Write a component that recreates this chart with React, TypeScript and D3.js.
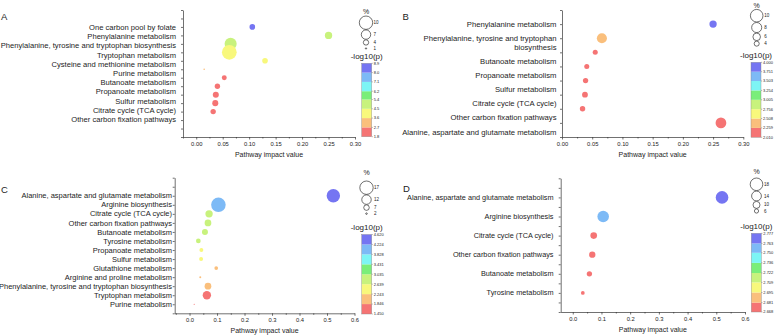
import * as d3 from "d3"
import React, { useEffect, useRef } from "react"

const FONT = "'Liberation Sans', Arial, Helvetica, sans-serif"
const INK = "#1c1c1c"

// eight-step palette used for the dots and the -log10(p) bar, low to high
const bandColors = [
  "#f57474",
  "#fabf7c",
  "#f8f87c",
  "#c8f27d",
  "#7aee7a",
  "#7df5f5",
  "#7dbaf6",
  "#7575f2",
]

// panel A
const pathwaysA = [
  "One carbon pool by folate",
  "Phenylalanine metabolism",
  "Phenylalanine, tyrosine and tryptophan biosynthesis",
  "Tryptophan metabolism",
  "Cysteine and methionine metabolism",
  "Purine metabolism",
  "Butanoate metabolism",
  "Propanoate metabolism",
  "Sulfur metabolism",
  "Citrate cycle (TCA cycle)",
  "Other carbon fixation pathways",
]
const impactA = [0.106, 0.25, 0.065, 0.0625, 0.13, 0.015, 0.053, 0.04, 0.037, 0.036, 0.032]
const logPA = [8.5, 5.0, 5.2, 4.0, 3.9, 3.0, 2.2, 2.1, 2.1, 2.0, 2.0]
const hitsA = [4.2, 5.5, 9, 11, 4.2, 1.2, 3.7, 4, 4.5, 4.5, 4]
const sizeTicksA = [10, 7, 4, 1]
const colorTicksA = ["1.8", "2.7", "3.6", "4.5", "5.4", "6.2", "7.1", "8.0", "8.9"]

// panel B
const pathwaysB = [
  "Phenylalanine metabolism",
  "Phenylalanine, tyrosine and tryptophan\nbiosynthesis",
  "Butanoate metabolism",
  "Propanoate metabolism",
  "Sulfur metabolism",
  "Citrate cycle (TCA cycle)",
  "Other carbon fixation pathways",
  "Alanine, aspartate and glutamate metabolism",
]
const impactB = [0.25, 0.066, 0.055, 0.041, 0.039, 0.038, 0.034, 0.263]
const logPB = [3.9, 2.4, 2.1, 2.1, 2.05, 2.05, 2.05, 2.1]
const hitsB = [5.8, 8, 4, 4, 4.2, 4.6, 4.3, 8.5]
const sizeTicksB = [10, 8, 6, 4]
const colorTicksB = ["2.010", "2.259", "2.508", "2.756", "3.005", "3.254", "3.503", "3.751", "4.000"]

// panel C
const pathwaysC = [
  "Alanine, aspartate and glutamate metabolism",
  "Arginine biosynthesis",
  "Citrate cycle (TCA cycle)",
  "Other carbon fixation pathways",
  "Butanoate metabolism",
  "Tyrosine metabolism",
  "Propanoate metabolism",
  "Sulfur metabolism",
  "Glutathione metabolism",
  "Arginine and proline metabolism",
  "Phenylalanine, tyrosine and tryptophan biosynthesis",
  "Tryptophan metabolism",
  "Purine metabolism",
]
const impactC = [0.523, 0.105, 0.071, 0.067, 0.056, 0.032, 0.043, 0.042, 0.097, 0.039, 0.067, 0.063, 0.017]
const logPC = [4.5, 4.0, 2.85, 2.8, 2.75, 2.7, 2.45, 2.4, 2.0, 1.95, 2.0, 1.7, 1.5]
const hitsC = [17, 18.5, 9.3, 8.5, 7.6, 6, 5, 5, 4.7, 2.5, 8.5, 10.6, 1.5]
const sizeTicksC = [17, 12, 7, 2]
const colorTicksC = ["1.450", "1.846", "2.243", "2.639", "3.035", "3.431", "3.828", "4.224", "4.620"]

// panel D
const pathwaysD = [
  "Alanine, aspartate and glutamate metabolism",
  "Arginine biosynthesis",
  "Citrate cycle (TCA cycle)",
  "Other carbon fixation pathways",
  "Butanoate metabolism",
  "Tyrosine metabolism",
]
const impactD = [0.52, 0.106, 0.073, 0.068, 0.058, 0.035]
const logPD = [2.775, 2.757, 2.67, 2.67, 2.67, 2.67]
const hitsD = [18, 16.5, 9.5, 9, 7.6, 5.4]
const sizeTicksD = [18, 14, 10, 6]
const colorTicksD = ["2.668", "2.681", "2.695", "2.709", "2.722", "2.736", "2.750", "2.763", "2.777"]

const layoutA = {
  letter: "A", letterX: 1, letterY: 19.5,
  axisX: 183, axisRight: 355, top: 10, bottom: 137,
  xDomain: [-0.025, 0.3], xMajor: 0.05, xDigits: 2,
  yDomain: [-2, 13], yTickStep: 1,
  labelRight: 176, labelSize: 7.6, labelRange: [27.3, 119.3], lineGap: 0,
  legendX: 366, pctY: 13.5, circleTop: 16, rMax: 6.7,
  barX: 361.7, barW: 10, barTop: 63.3, barBottom: 136.7,
}
const layoutB = {
  letter: "B", letterX: 402.5, letterY: 19.5,
  axisX: 562, axisRight: 743.3, top: 10, bottom: 137,
  xDomain: [0, 0.3], xMajor: 0.05, xDigits: 2,
  yDomain: [-1, 8], yTickStep: 1,
  labelRight: 556.5, labelSize: 7.7, labelRange: null, lineGap: 9,
  legendX: 756.7, pctY: 7.5, circleTop: 9.4, rMax: 6.3,
  barX: 751, barW: 10, barTop: 62.3, barBottom: 137.3,
}
const layoutC = {
  letter: "C", letterX: 1, letterY: 192.5,
  axisX: 174.7, axisRight: 354.5, top: 177.7, bottom: 313.3,
  xDomain: [-0.054, 0.6], xMajor: 0.1, xDigits: 1,
  yDomain: [-2, 13], yTickStep: 1,
  labelRight: 172, labelSize: 7.5, labelRange: null, lineGap: 0,
  legendX: 366.5, pctY: 175, circleTop: 181, rMax: 6.7,
  barX: 361.7, barW: 10, barTop: 234.5, barBottom: 314,
}
const layoutD = {
  letter: "D", letterX: 403, letterY: 192,
  axisX: 560.7, axisRight: 745, top: 178.3, bottom: 312,
  xDomain: [-0.042, 0.6], xMajor: 0.1, xDigits: 1,
  yDomain: [-1, 6], yTickStep: 0.5,
  labelRight: 553.5, labelSize: 7.3, labelRange: null, lineGap: 0,
  legendX: 756.5, pctY: 173.5, circleTop: 178, rMax: 6.3,
  barX: 751.3, barW: 10, barTop: 233.3, barBottom: 312,
}

const Panel = ({ pathways, impact, logP, hits, sizeTicks, colorTicks, layout }) => {
  const ref = useRef(null)

  useEffect(() => {
    const L = layout
    const g = d3.select(ref.current)
    g.selectAll("*").remove()

    const x = d3.scaleLinear().domain(L.xDomain).range([L.axisX, L.axisRight])
    const y = d3.scaleLinear().domain(L.yDomain).range([L.top, L.bottom])
    const r = d3.scaleLinear().domain([0, sizeTicks[0]]).range([0, L.rMax])
    const lo = +colorTicks[0]
    const hi = +colorTicks[colorTicks.length - 1]
    const color = d3.scaleQuantize().domain([lo, hi]).range(bandColors)

    g.append("text")
      .attr("x", L.letterX)
      .attr("y", L.letterY)
      .attr("font-size", 9.5)
      .attr("fill", INK)
      .text(L.letter)

    // x axis with minor ticks halfway between labelled ones
    const major = d3.range(0, L.xDomain[1] + 1e-9, L.xMajor)
    const minor = d3
      .range(Math.ceil(L.xDomain[0] / (L.xMajor / 2)), Math.floor(L.xDomain[1] / (L.xMajor / 2)) + 1)
      .map((k) => (k * L.xMajor) / 2)
      .filter((v) => Math.abs(v / L.xMajor - Math.round(v / L.xMajor)) > 1e-6)

    const xg = g.append("g").attr("transform", "translate(0," + L.bottom + ")")
    xg.call(
      d3
        .axisBottom(x)
        .tickValues(major)
        .tickFormat(d3.format("." + L.xDigits + "f"))
        .tickSize(2.5)
        .tickSizeOuter(0)
        .tickPadding(2)
    )
    const minorG = xg.append("g")
    minorG.call(d3.axisBottom(x).tickValues(minor).tickFormat(() => "").tickSize(1.5).tickSizeOuter(0))
    minorG.select(".domain").remove()

    const yg = g.append("g").attr("transform", "translate(" + L.axisX + ",0)")
    const yTicks = d3.range(L.yDomain[0], L.yDomain[1] + 1e-9, L.yTickStep)
    yg.call(d3.axisLeft(y).tickValues(yTicks).tickFormat(() => "").tickSize(2).tickSizeOuter(0))

    g.selectAll(".domain, .tick line").attr("stroke", "#333").attr("stroke-width", 0.7)
    xg.selectAll("text")
      .attr("font-size", 5.8)
      .attr("font-family", FONT)
      .attr("fill", INK)

    g.append("text")
      .attr("x", (L.axisX + L.axisRight) / 2)
      .attr("y", L.bottom + 20)
      .attr("text-anchor", "middle")
      .attr("font-size", 7)
      .attr("fill", INK)
      .text("Pathway impact value")

    // pathway names, wrapped names push the following ones down
    const labelY = L.labelRange
      ? d3.scaleLinear().domain([0, pathways.length - 1]).range(L.labelRange)
      : y
    let extra = 0
    pathways.forEach((name, i) => {
      const lines = name.split("\n")
      const t = g
        .append("text")
        .attr("text-anchor", "end")
        .attr("font-size", L.labelSize)
        .attr("fill", INK)
      lines.forEach((line, j) => {
        t.append("tspan")
          .attr("x", L.labelRight)
          .attr("y", labelY(i) + (extra + j) * L.lineGap)
          .attr("dy", "0.35em")
          .attr("fill", INK)
          .text(line)
      })
      extra += lines.length - 1
    })

    g.append("g")
      .selectAll("circle")
      .data(impact)
      .join("circle")
      .attr("cx", (d) => x(d))
      .attr("cy", (d, i) => y(i))
      .attr("r", (d, i) => r(hits[i]))
      .attr("fill", (d, i) => color(logP[i]))

    // size legend
    g.append("text")
      .attr("x", L.legendX)
      .attr("y", L.pctY)
      .attr("text-anchor", "middle")
      .attr("font-size", 7)
      .attr("fill", INK)
      .text("%")
    let cy = L.circleTop + r(sizeTicks[0])
    sizeTicks.forEach((s, i) => {
      if (i > 0) cy += Math.max(r(sizeTicks[i - 1]) + r(s) + 0.5, 6)
      g.append("circle")
        .attr("cx", L.legendX)
        .attr("cy", cy)
        .attr("r", Math.max(r(s), 0.6))
        .attr("fill", "#fff")
        .attr("stroke", "#111")
        .attr("stroke-width", 0.6)
      g.append("text")
        .attr("x", L.legendX + 7.5)
        .attr("y", cy)
        .attr("dy", "0.35em")
        .attr("font-size", 4.5)
        .attr("fill", INK)
        .text(s)
    })

    // -log10(p) colour bar
    const c = d3.scaleLinear().domain([lo, hi]).range([L.barBottom, L.barTop])
    const vals = colorTicks.map(Number)
    g.append("text")
      .attr("x", L.barX + L.barW / 2)
      .attr("y", L.barTop - 4.5)
      .attr("text-anchor", "middle")
      .attr("font-size", 8)
      .attr("fill", INK)
      .text("-log10(p)")
    g.append("g")
      .selectAll("rect")
      .data(bandColors)
      .join("rect")
      .attr("x", L.barX)
      .attr("y", (d, i) => c(vals[i + 1]))
      .attr("width", L.barW)
      .attr("height", (d, i) => c(vals[i]) - c(vals[i + 1]))
      .attr("fill", (d) => d)
    g.append("rect")
      .attr("x", L.barX)
      .attr("y", L.barTop)
      .attr("width", L.barW)
      .attr("height", L.barBottom - L.barTop)
      .attr("fill", "none")
      .attr("stroke", "#888")
      .attr("stroke-width", 0.4)
    colorTicks.forEach((t) => {
      g.append("line")
        .attr("x1", L.barX + L.barW)
        .attr("x2", L.barX + L.barW + 1.2)
        .attr("y1", c(+t))
        .attr("y2", c(+t))
        .attr("stroke", "#555")
        .attr("stroke-width", 0.4)
      g.append("text")
        .attr("x", L.barX + L.barW + 2)
        .attr("y", c(+t))
        .attr("dy", "0.35em")
        .attr("font-size", 4)
        .attr("fill", INK)
        .text(t)
    })
  }, [])

  return <g ref={ref} fontFamily={FONT} />
}

export default function App() {
  return (
    <svg
      width={776}
      height={335}
      viewBox="0 0 776 335"
      style={{ position: "absolute", left: 0, top: 0, background: "#fff" }}
    >
      <Panel pathways={pathwaysA} impact={impactA} logP={logPA} hits={hitsA}
        sizeTicks={sizeTicksA} colorTicks={colorTicksA} layout={layoutA} />
      <Panel pathways={pathwaysB} impact={impactB} logP={logPB} hits={hitsB}
        sizeTicks={sizeTicksB} colorTicks={colorTicksB} layout={layoutB} />
      <Panel pathways={pathwaysC} impact={impactC} logP={logPC} hits={hitsC}
        sizeTicks={sizeTicksC} colorTicks={colorTicksC} layout={layoutC} />
      <Panel pathways={pathwaysD} impact={impactD} logP={logPD} hits={hitsD}
        sizeTicks={sizeTicksD} colorTicks={colorTicksD} layout={layoutD} />
    </svg>
  )
}
